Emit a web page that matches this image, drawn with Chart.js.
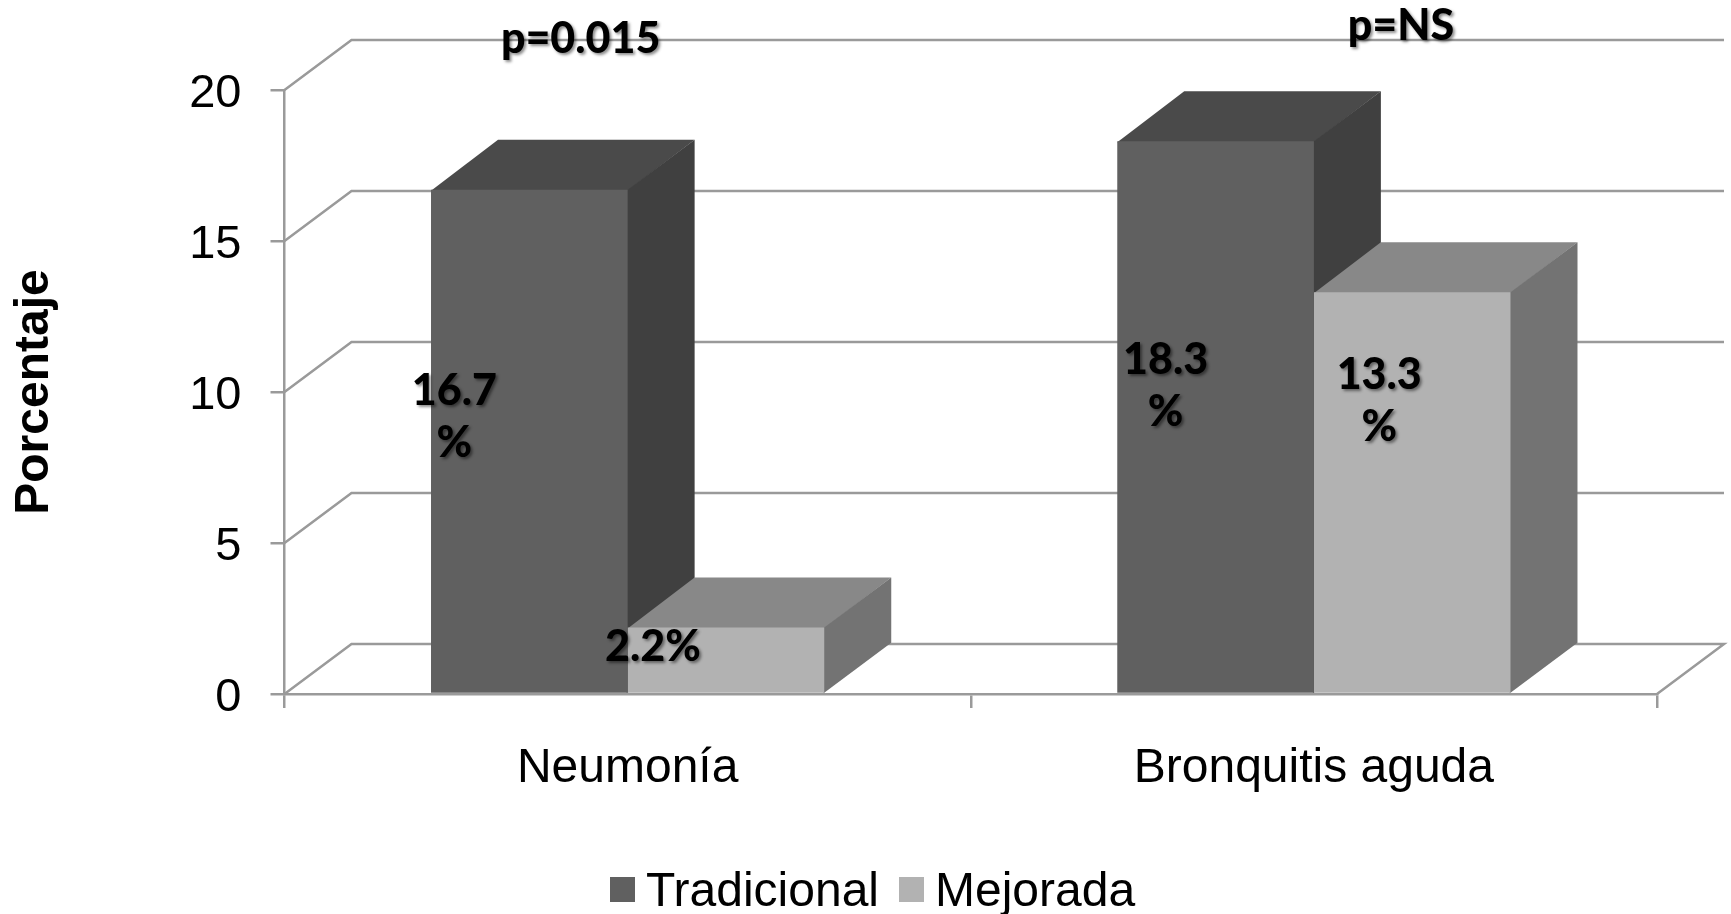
<!DOCTYPE html>
<html><head><meta charset="utf-8">
<style>html,body{margin:0;padding:0;background:#fff;overflow:hidden}canvas{display:block}</style>
<script src="https://cdn.jsdelivr.net/npm/chart.js@4"></script>
</head><body><canvas id="c" width="1731" height="914"></canvas>
<script>
const categories = ["Neumonía", "Bronquitis aguda"];
const tradicional = [16.7, 18.3];
const mejorada = [2.2, 13.3];
const seriesNames = ["Tradicional", "Mejorada"];
const tradicionalLabels = [["16.7", "%"], ["18.3", "%"]];
const mejoradaLabels = [["2.2%"], ["13.3", "%"]];
const pValues = ["p=0.015", "p=NS"];
const yTicks = [0, 5, 10, 15, 20];
const axisTitle = "Porcentaje";

const SANS = "'Liberation Sans', Arial, sans-serif";
const LABEL = "'Lato', 'Open Sans', sans-serif";
const GRID = "#9a9a9a";
const DX = 67, DY = 50;
const FRONT = ["#606060", "#b2b2b2"], TOP = ["#4a4a4a", "#888888"], SIDE = ["#404040", "#737373"];
// label placement relative to each bar's centre x and the plot's zero line
const labelPos = [
  [[-75, -303], [-50, -334]],
  [[-73, -47], [-33, -319]]
];
const pPos = [[-47, 39], [87, 26]];

function poly(ctx, pts, fill) {
  ctx.beginPath();
  pts.forEach((p, i) => i ? ctx.lineTo(p[0], p[1]) : ctx.moveTo(p[0], p[1]));
  ctx.closePath();
  ctx.fillStyle = fill;
  ctx.fill();
}

const depth3d = {
  id: "depth3d",
  beforeDatasetsDraw(chart) {
    const ctx = chart.ctx, y = chart.scales.y, x = chart.scales.x;
    const L = x.left, R = x.right;
    ctx.save();
    ctx.strokeStyle = GRID; ctx.lineWidth = 2.5;
    yTicks.forEach(v => {
      const py = y.getPixelForValue(v);
      ctx.beginPath();
      ctx.moveTo(L, py);
      ctx.lineTo(L + DX, py - DY);
      ctx.lineTo(R + DX, py - DY);
      if (v === 0) ctx.lineTo(R, py);
      ctx.stroke();
    });
    [0, 1].forEach(d => {
      chart.getDatasetMeta(d).data.forEach(b => {
        const l = b.x - b.width / 2, r = b.x + b.width / 2, t = b.y, base = b.base;
        poly(ctx, [[l, t + 1], [l + DX, t - DY], [r + DX, t - DY], [r, t + 1]], TOP[d]);
        poly(ctx, [[r - 1, t + 1], [r, t], [r + DX, t - DY], [r + DX, base - DY], [r, base], [r - 1, base]], SIDE[d]);
      });
    });
    ctx.restore();
  },
  afterDraw(chart) {
    const ctx = chart.ctx, y0 = chart.scales.y.getPixelForValue(0);
    ctx.save();
    ctx.textAlign = "center"; ctx.textBaseline = "middle";
    ctx.fillStyle = "#000";
    ctx.shadowColor = "rgba(0,0,0,0.45)"; ctx.shadowBlur = 3; ctx.shadowOffsetX = 2; ctx.shadowOffsetY = 2;
    ctx.font = "900 43px " + LABEL;
    [tradicionalLabels, mejoradaLabels].forEach((set, d) => {
      chart.getDatasetMeta(d).data.forEach((b, i) => {
        const px = b.x + labelPos[d][i][0], py = y0 + labelPos[d][i][1];
        set[i].forEach((line, k) => ctx.fillText(line, px, py + k * 52));
      });
    });
    const xs = chart.scales.x;
    pValues.forEach((t, i) => {
      ctx.fillText(t, xs.getPixelForValue(i) + pPos[i][0], pPos[i][1]);
    });
    ctx.restore();

    // legend
    ctx.save();
    ctx.font = "48px " + SANS; ctx.textBaseline = "middle"; ctx.textAlign = "left";
    const boxes = [610, 899], texts = [646, 935];
    seriesNames.forEach((n, i) => {
      ctx.fillStyle = FRONT[i];
      ctx.fillRect(boxes[i], 877, 25, 25);
      ctx.fillStyle = "#000";
      ctx.fillText(n, texts[i], 893);
    });
    ctx.restore();
  }
};

new Chart(document.getElementById("c"), {
  type: "bar",
  plugins: [depth3d],
  data: {
    labels: categories,
    datasets: [
      { label: seriesNames[0], data: tradicional, backgroundColor: FRONT[0] },
      { label: seriesNames[1], data: mejorada, backgroundColor: FRONT[1] }
    ]
  },
  options: {
    responsive: false,
    animation: false,
    events: [],
    layout: { padding: { top: 90, right: 74, left: 0, bottom: 0 } },
    datasets: { bar: { barPercentage: 1, categoryPercentage: 0.573 } },
    plugins: { legend: { display: false }, tooltip: { enabled: false } },
    scales: {
      x: {
        afterFit(s) { s.height = 220; },
        grid: { drawOnChartArea: false, tickLength: 14, color: GRID, lineWidth: 2.5 },
        border: { color: GRID, width: 2.5 },
        ticks: { color: "#000", font: { family: SANS, size: 48 }, padding: 32, maxRotation: 0 }
      },
      y: {
        min: 0, max: 20,
        afterFit(s) { s.width = 284.5; },
        grid: { drawOnChartArea: false, tickLength: 14, color: GRID, lineWidth: 2.5 },
        border: { color: GRID, width: 2.5 },
        ticks: {
          stepSize: 5, color: "#000", padding: 29,
          font: { family: SANS, size: 47, lineHeight: 8 / 47 },
          callback: v => ["", String(v)]
        },
        title: { display: true, text: axisTitle, color: "#000", font: { family: SANS, size: 48, weight: "bold" }, padding: { top: 6, bottom: 0 } }
      }
    }
  }
});
</script></body></html>
